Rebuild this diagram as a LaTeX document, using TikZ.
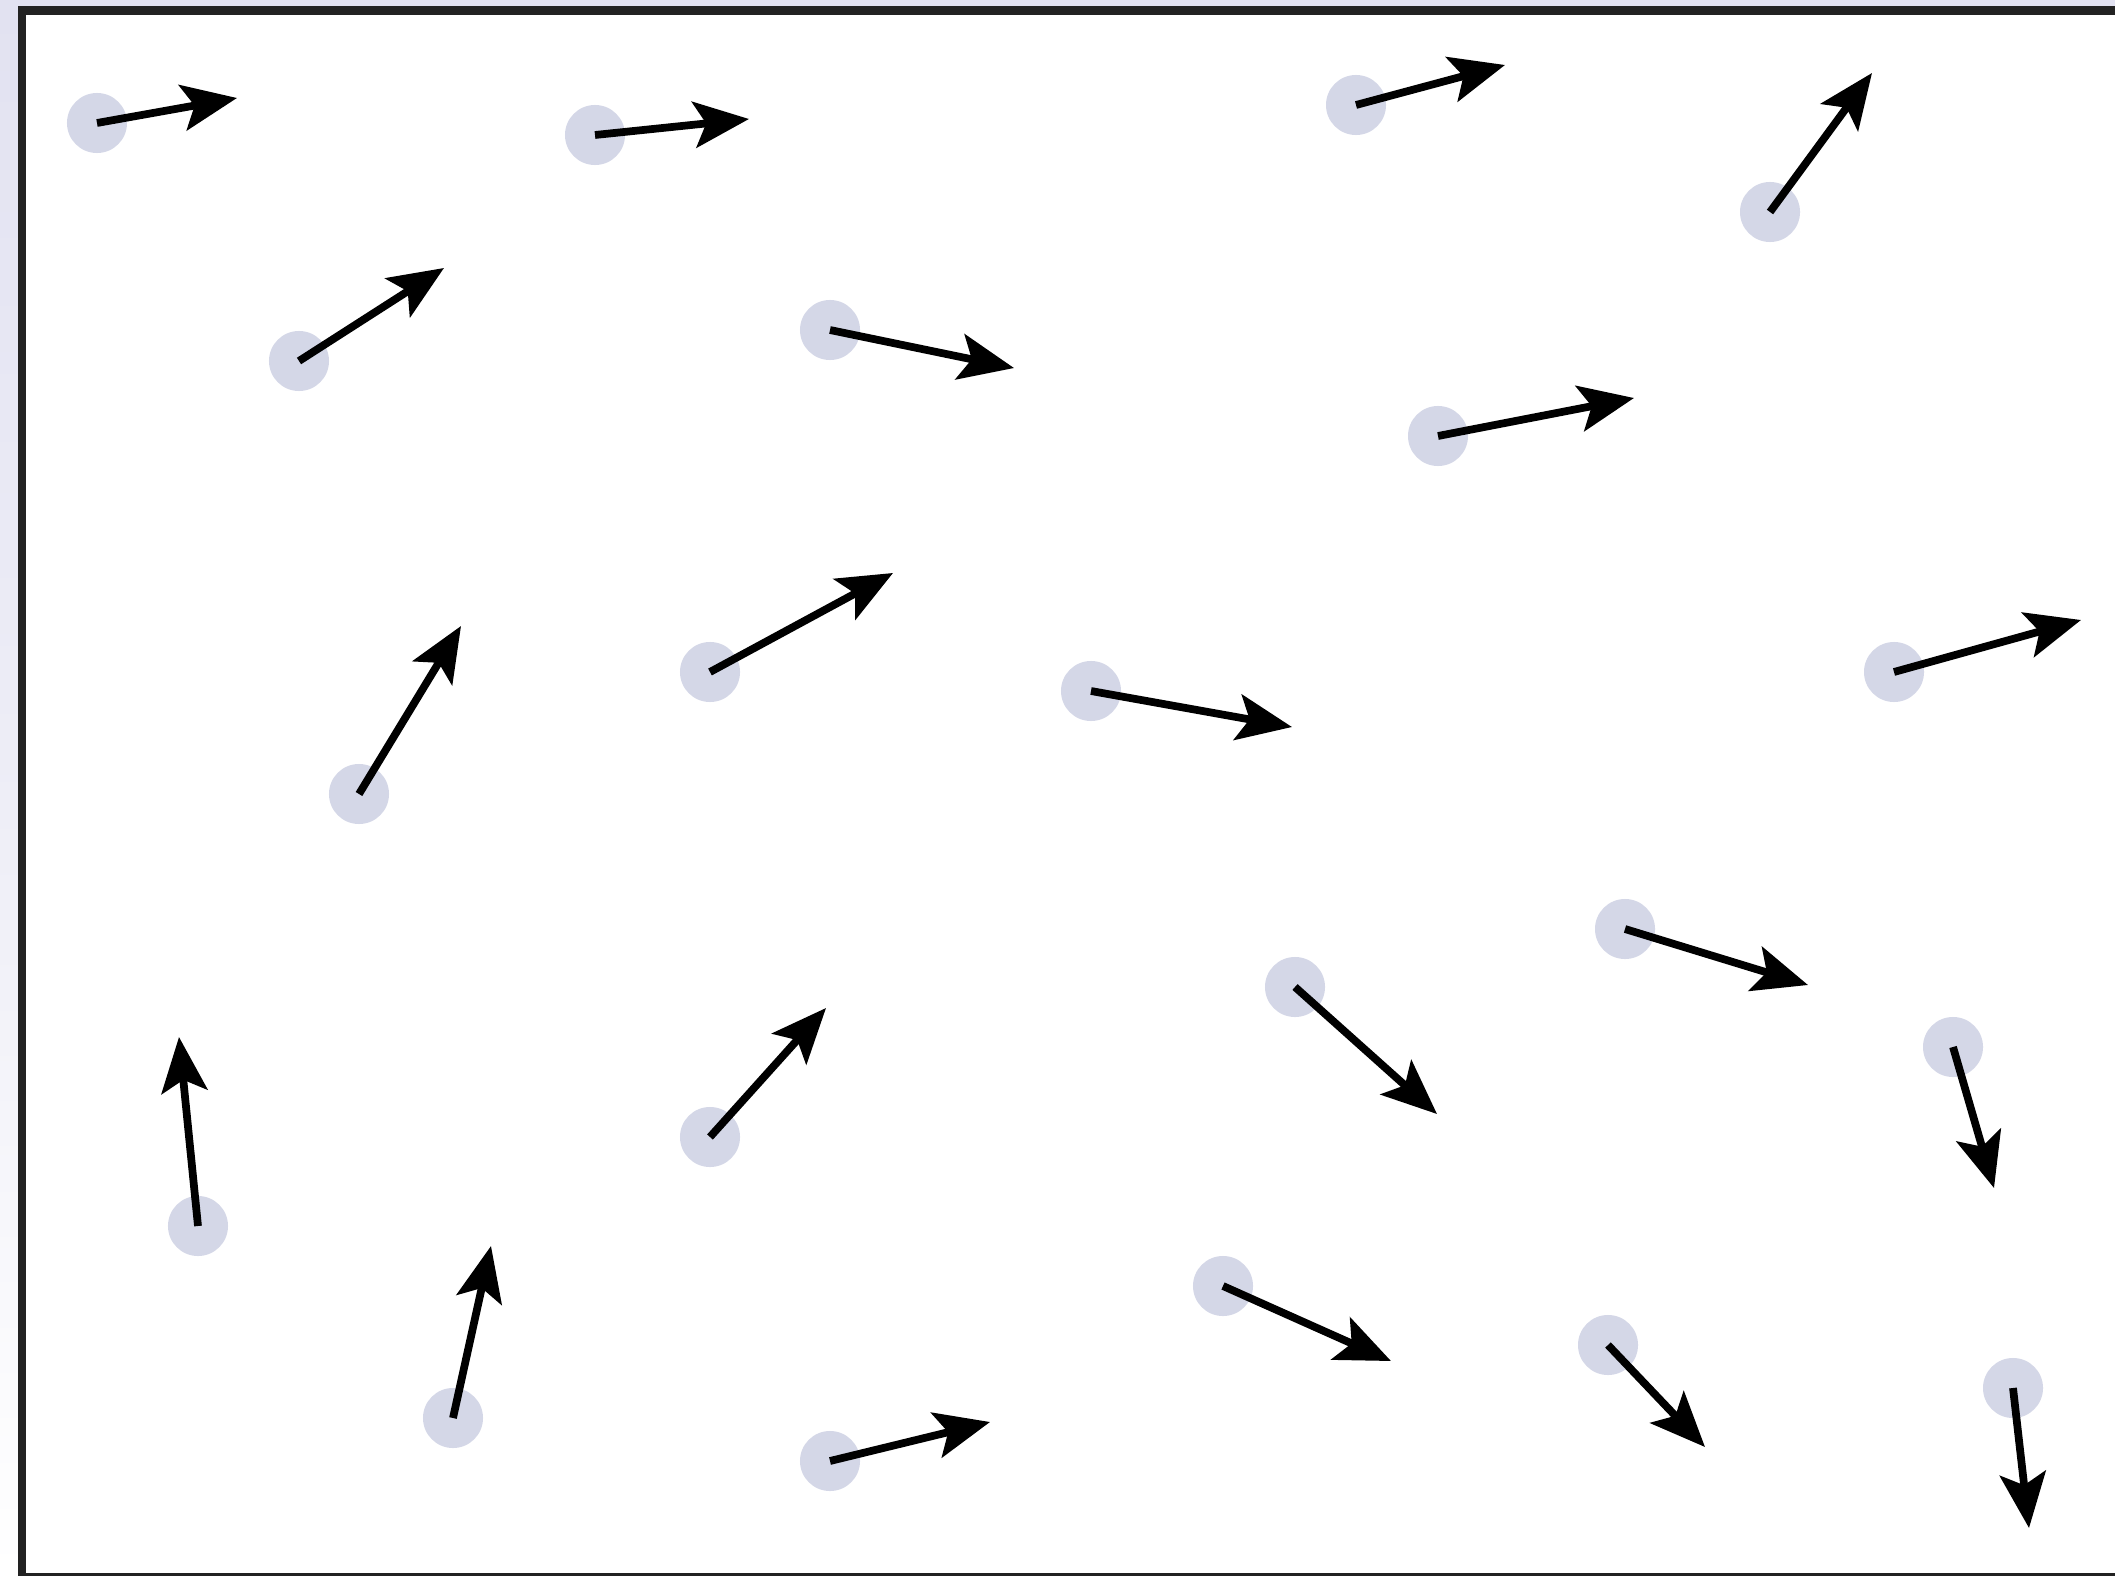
\documentclass[tikz,border=0pt]{standalone}
\usepackage{tikz}
\usetikzlibrary{arrows.meta}
\definecolor{frameink}{HTML}{222222}
\definecolor{lav}{HTML}{E2E2F1}
\definecolor{sitefill}{HTML}{D4D7E7}
\tikzset{site/.style={circle,fill=sitefill,inner sep=0pt,minimum size=6mm},vec/.style={-{Stealth[length=5.5mm,width=4.6mm,inset=1.2mm]},line width=2.2pt,black},frm/.style={draw=frameink,line width=2.3pt,fill=white}}
\begin{document}
\begin{tikzpicture}[x=0.01cm,y=-0.01cm]
\useasboundingbox (0,0) rectangle (2115,1576);
\shade[top color=lav,bottom color=white,middle color=lav!60] (0,0) rectangle (2115,1576);
\draw[frm] (22,10.5) rectangle (2135,1577);
% sites and their vectors
\foreach \i/\px/\py/\tx/\ty in {1/97/123/237/98, 2/595/135/749/119, 3/1356/105/1505/65, 4/1770/212/1872/73,
  5/299/361/444/268, 6/830/330/1014/368, 7/1438/436/1634/398, 8/710/672/893/573,
  9/359/794/461/626, 10/1091/691/1292/727, 11/1894/672/2081/620, 12/1625/929/1808/985,
  13/1295/987/1437/1114, 14/1953/1047/1994/1188, 15/198/1226/179/1037, 16/710/1137/826/1008,
  17/453/1418/491/1246, 18/1223/1286/1391/1361, 19/1608/1345/1705/1447, 20/830/1461/990/1422,
  21/2013/1388/2029/1528}{
  \node[site] (p\i) at (\px,\py) {};
  \coordinate (t\i) at (\tx,\ty);
  \draw[vec] (p\i.center) -- (t\i);
}
\end{tikzpicture}
\end{document}
